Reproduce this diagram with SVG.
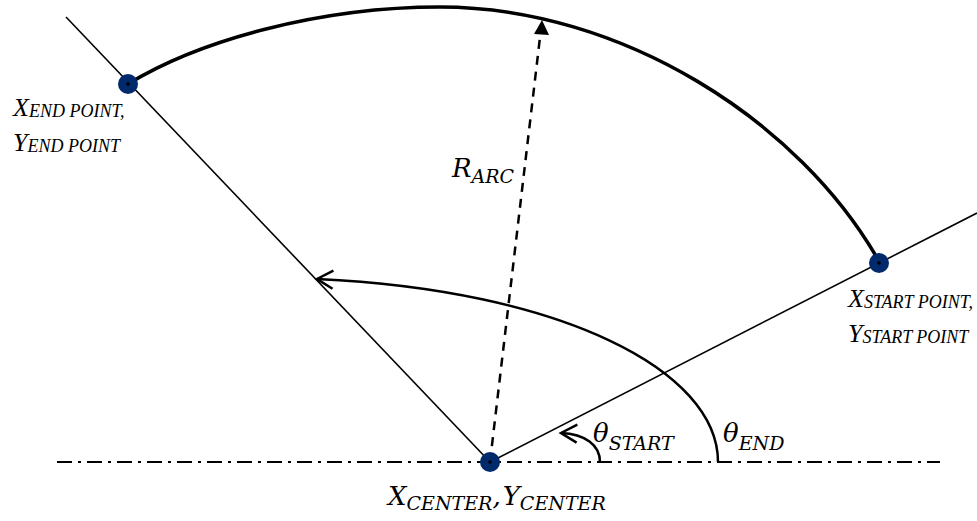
<svg xmlns="http://www.w3.org/2000/svg" width="977" height="521" viewBox="0 0 977 521">
<style>
.thin{stroke:#000;stroke-width:1.6;fill:none}
.arc{stroke:#000;stroke-width:3.5;fill:none}
.ang{stroke:#000;stroke-width:2.5;fill:none}
.axis{stroke:#000;stroke-width:2;fill:none;stroke-dasharray:15 6 3 6}
.rad{stroke:#000;stroke-width:2.5;fill:none;stroke-dasharray:9 7}
.dot{fill:#002a6c}
.pin{fill:#000}
.tn{font-family:"Liberation Serif",serif;font-style:italic;fill:#000}
.m{font-family:"DejaVu Serif",serif;font-style:italic;fill:#000;font-size:26px}
.ms{font-size:19px}
</style>
<defs>
<marker id="chev" markerWidth="22" markerHeight="22" refX="19" refY="11" orient="auto" markerUnits="userSpaceOnUse">
<path d="M3,2 L19,11 L3,20" fill="none" stroke="#000" stroke-width="2.5"/>
</marker>
</defs>
<g id="connectors">
<line class="axis" x1="57" y1="462" x2="940" y2="462"/>
<line class="thin" x1="66" y1="17" x2="490" y2="462"/>
<line class="thin" x1="490" y1="462" x2="977" y2="213"/>
<path class="arc" d="M128,84 C200,40 320,7 440,7 C620,7 800,120 880,263"/>
<line class="rad" x1="490" y1="462" x2="540.5" y2="33"/>
<polygon points="542,20 534,34 549,35" fill="#000"/>
<path class="ang" d="M718,462 C718,370 560,290 317,279" marker-end="url(#chev)"/>
<path class="ang" d="M600,462 C600,445 585,434 561,433" marker-end="url(#chev)"/>
</g>
<g id="node-end">
<circle class="dot" cx="128" cy="84" r="10"/>
<circle class="pin" cx="128" cy="84" r="1.8"/>
<text class="tn" x="13" y="116" font-size="26">X<tspan font-size="18" dy="1">END POINT,</tspan></text>
<text class="tn" x="13" y="151" font-size="26">Y<tspan font-size="18" dy="1">END POINT</tspan></text>
</g>
<g id="node-start">
<circle class="dot" cx="879" cy="263" r="10"/>
<circle class="pin" cx="879" cy="263" r="1.8"/>
<text class="tn" x="848" y="307" font-size="26">X<tspan font-size="18" dy="1">START POINT,</tspan></text>
<text class="tn" x="848" y="342" font-size="26">Y<tspan font-size="18" dy="1">START POINT</tspan></text>
</g>
<g id="node-center">
<circle class="dot" cx="490" cy="462" r="10"/>
<circle class="pin" cx="490" cy="462" r="1.8"/>
<text class="m" x="388" y="505">X<tspan class="ms" dy="5">CENTER</tspan><tspan dy="-5">,</tspan><tspan dx="2">Y</tspan><tspan class="ms" dy="5">CENTER</tspan></text>
</g>
<g id="label-radius">
<text class="m" x="452" y="177">R<tspan class="ms" dy="6">ARC</tspan></text>
</g>
<g id="label-theta-start">
<text class="m" x="593" y="442">θ<tspan class="ms" dy="8">START</tspan></text>
</g>
<g id="label-theta-end">
<text class="m" x="723" y="442">θ<tspan class="ms" dy="8">END</tspan></text>
</g>
</svg>
